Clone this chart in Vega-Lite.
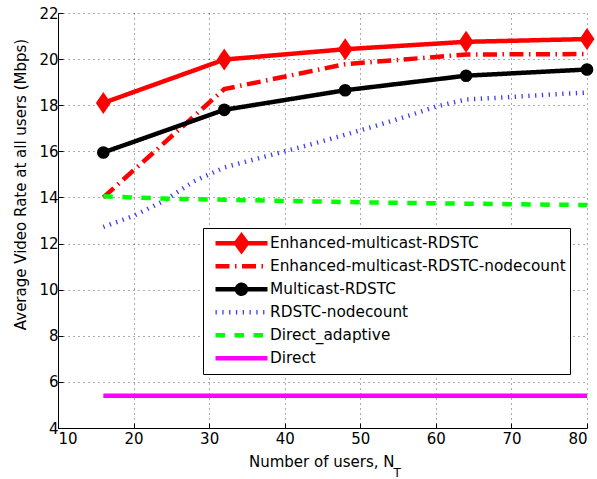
{
  "$schema": "https://vega.github.io/schema/vega-lite/v6.json",
  "width": 529,
  "height": 415,
  "autosize": "none",
  "padding": {"left": 58, "top": 13, "right": 10, "bottom": 51},
  "background": "white",
  "config": {
    "font": "DejaVu Sans",
    "view": {"stroke": null},
    "axis": {
      "labelFont": "DejaVu Sans",
      "titleFont": "DejaVu Sans",
      "labelColor": "black",
      "titleColor": "black",
      "domainColor": "black",
      "tickColor": "black",
      "gridColor": "black",
      "gridOpacity": 0.65,
      "gridDash": [1, 4],
      "labelFontSize": 15,
      "titleFontSize": 15,
      "titleFontWeight": "normal"
    }
  },
  "data": {
    "values": [
      {"series": "Enhanced-multicast-RDSTC", "x": 16, "y": 18.1},
      {"series": "Enhanced-multicast-RDSTC", "x": 32, "y": 19.98},
      {"series": "Enhanced-multicast-RDSTC", "x": 48, "y": 20.43},
      {"series": "Enhanced-multicast-RDSTC", "x": 64, "y": 20.75},
      {"series": "Enhanced-multicast-RDSTC", "x": 80, "y": 20.87},
      {"series": "Enhanced-multicast-RDSTC-nodecount", "x": 16, "y": 14.0},
      {"series": "Enhanced-multicast-RDSTC-nodecount", "x": 32, "y": 18.7},
      {"series": "Enhanced-multicast-RDSTC-nodecount", "x": 48, "y": 19.78},
      {"series": "Enhanced-multicast-RDSTC-nodecount", "x": 64, "y": 20.2},
      {"series": "Enhanced-multicast-RDSTC-nodecount", "x": 80, "y": 20.22},
      {"series": "Multicast-RDSTC", "x": 16, "y": 15.95},
      {"series": "Multicast-RDSTC", "x": 32, "y": 17.8},
      {"series": "Multicast-RDSTC", "x": 48, "y": 18.65},
      {"series": "Multicast-RDSTC", "x": 64, "y": 19.28},
      {"series": "Multicast-RDSTC", "x": 80, "y": 19.55},
      {"series": "RDSTC-nodecount", "x": 16, "y": 12.72},
      {"series": "RDSTC-nodecount", "x": 20, "y": 13.2},
      {"series": "RDSTC-nodecount", "x": 24, "y": 13.85},
      {"series": "RDSTC-nodecount", "x": 28, "y": 14.7},
      {"series": "RDSTC-nodecount", "x": 32, "y": 15.3},
      {"series": "RDSTC-nodecount", "x": 36, "y": 15.65},
      {"series": "RDSTC-nodecount", "x": 40, "y": 16.0},
      {"series": "RDSTC-nodecount", "x": 44, "y": 16.35},
      {"series": "RDSTC-nodecount", "x": 48, "y": 16.72},
      {"series": "RDSTC-nodecount", "x": 52, "y": 17.1},
      {"series": "RDSTC-nodecount", "x": 56, "y": 17.5},
      {"series": "RDSTC-nodecount", "x": 60, "y": 17.94},
      {"series": "RDSTC-nodecount", "x": 64, "y": 18.25},
      {"series": "RDSTC-nodecount", "x": 68, "y": 18.32},
      {"series": "RDSTC-nodecount", "x": 72, "y": 18.4},
      {"series": "RDSTC-nodecount", "x": 76, "y": 18.48},
      {"series": "RDSTC-nodecount", "x": 80, "y": 18.55},
      {"series": "Direct_adaptive", "x": 16, "y": 14.05},
      {"series": "Direct_adaptive", "x": 24, "y": 13.95},
      {"series": "Direct_adaptive", "x": 32, "y": 13.9},
      {"series": "Direct_adaptive", "x": 48, "y": 13.8},
      {"series": "Direct_adaptive", "x": 64, "y": 13.73},
      {"series": "Direct_adaptive", "x": 80, "y": 13.67},
      {"series": "Direct", "x": 16, "y": 5.4},
      {"series": "Direct", "x": 80, "y": 5.4}
    ]
  },
  "layer": [
    {
      "mark": {"type": "line", "strokeCap": "butt"},
      "encoding": {
        "x": {
          "field": "x", "type": "quantitative",
          "scale": {"domain": [10, 80], "nice": false, "zero": false},
          "axis": {
            "orient": "bottom",
            "values": [10, 20, 30, 40, 50, 60, 70, 80],
            "grid": true, "tickSize": -5, "labelPadding": 8,
            "title": "Number of users, N",
            "titleAnchor": null, "titleX": 190.5, "titleY": 38.7,
            "titleAlign": "left", "titleBaseline": "alphabetic"
          }
        },
        "y": {
          "field": "y", "type": "quantitative",
          "scale": {"domain": [4, 22], "nice": false, "zero": false},
          "axis": {
            "values": [4, 6, 8, 10, 12, 14, 16, 18, 20, 22],
            "grid": true, "tickSize": -5, "labelPadding": 5,
            "title": "Average Video Rate at all users (Mbps)",
            "titleAnchor": null, "titleX": -33, "titleY": 171,
            "titleAlign": "center", "titleBaseline": "alphabetic", "titleAngle": 270
          }
        },
        "color": {
          "field": "series", "type": "nominal",
          "scale": {
            "domain": ["Enhanced-multicast-RDSTC", "Enhanced-multicast-RDSTC-nodecount", "Multicast-RDSTC", "RDSTC-nodecount", "Direct_adaptive", "Direct"],
            "range": ["#ff0000", "#ff0000", "#000000", "#3c3cff", "#00ff00", "#ff00ff"]
          },
          "legend": {
            "orient": "none", "legendX": 145, "legendY": 215,
            "title": null, "padding": 4,
            "fillColor": "white", "strokeColor": "black",
            "symbolSize": 256, "symbolOffset": 24, "labelOffset": 18,
            "clipHeight": 22.5, "rowPadding": 0,
            "labelFontSize": 15.3, "labelFont": "DejaVu Sans",
            "labelColor": "black", "labelLimit": 0,
            "encode": {
              "symbols": {
                "update": {
                  "shape": {"signal": "datum.value === 'Enhanced-multicast-RDSTC' ? 'M-3.25,0H3.25M0,-0.94L0.69,0L0,0.94L-0.69,0Z' : datum.value === 'Multicast-RDSTC' ? 'M-3.25,0H3.25M0.56,0A0.56,0.56,0,1,1,-0.56,0A0.56,0.56,0,1,1,0.56,0Z' : 'M-3.25,0H3.25'"},
                  "fill": {"signal": "datum.value === 'Enhanced-multicast-RDSTC' ? '#ff0000' : datum.value === 'Multicast-RDSTC' ? '#000000' : 'transparent'"},
                  "strokeDash": {"signal": "scale('strokeDash', datum.value)"},
                  "strokeWidth": {"signal": "scale('strokeWidth', datum.value)"},
                  "opacity": {"value": 1}
                }
              }
            }
          }
        },
        "strokeDash": {
          "field": "series", "type": "nominal",
          "scale": {
            "domain": ["Enhanced-multicast-RDSTC", "Enhanced-multicast-RDSTC-nodecount", "Multicast-RDSTC", "RDSTC-nodecount", "Direct_adaptive", "Direct"],
            "range": [[1, 0], [14, 5.5, 1.5, 5.5], [1, 0], [1.3, 5.5], [9.5, 9.5], [1, 0]]
          },
          "legend": null
        },
        "strokeWidth": {
          "field": "series", "type": "nominal",
          "scale": {
            "domain": ["Enhanced-multicast-RDSTC", "Enhanced-multicast-RDSTC-nodecount", "Multicast-RDSTC", "RDSTC-nodecount", "Direct_adaptive", "Direct"],
            "range": [4.5, 4.5, 4.5, 4.5, 5, 4.5]
          },
          "legend": null
        }
      }
    },
    {
      "transform": [{"filter": "datum.series === 'Enhanced-multicast-RDSTC'"}],
      "mark": {"type": "point", "shape": "M0,-1L0.68,0L0,1L-0.68,0Z", "filled": true, "color": "#ff0000", "size": 484, "opacity": 1},
      "encoding": {
        "x": {
          "field": "x", "type": "quantitative",
          "axis": {
            "orient": "top", "title": "T", "labels": false, "ticks": false, "domain": false, "grid": false,
            "titleAnchor": null, "titleX": 335, "titleY": 463.5, "titleAlign": "left",
            "titleBaseline": "alphabetic", "titleFontSize": 12
          }
        },
        "y": {"field": "y", "type": "quantitative"}
      }
    },
    {
      "transform": [{"filter": "datum.series === 'Multicast-RDSTC'"}],
      "mark": {"type": "point", "shape": "circle", "filled": true, "color": "#000000", "size": 160, "opacity": 1},
      "encoding": {
        "x": {"field": "x", "type": "quantitative", "axis": null},
        "y": {"field": "y", "type": "quantitative"}
      }
    }
  ],
  "resolve": {"axis": {"x": "independent"}}
}
